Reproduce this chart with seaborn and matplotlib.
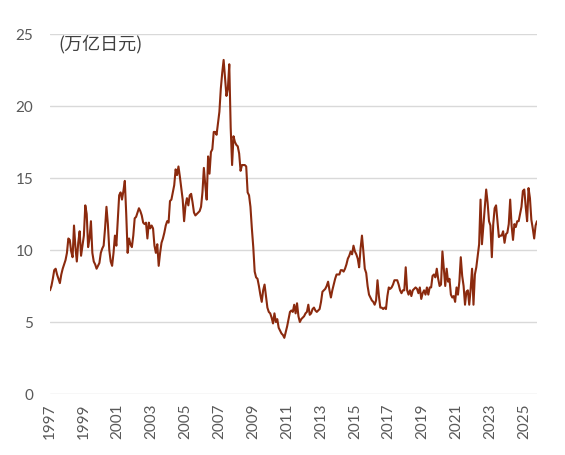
import numpy as np
import pandas as pd
import matplotlib
matplotlib.use("Agg")
import matplotlib.pyplot as plt
import seaborn as sns

# Monthly values (万亿日元), Jan 1997 onward
y1997 = [7.2, 7.5, 8.0, 8.6, 8.7, 8.3, 8.0, 7.7, 8.3, 8.7, 9.0, 9.3]
y1998 = [9.8, 10.8, 10.7, 9.9, 9.5, 11.7, 10.2, 9.2, 10.5, 11.3, 9.6, 10.3]
y1999 = [11.0, 13.1, 12.5, 10.2, 10.8, 12.0, 9.8, 9.2, 9.0, 8.7, 8.9, 9.1]
y2000 = [9.8, 10.1, 10.3, 11.5, 13.0, 11.8, 10.0, 9.2, 8.9, 9.8, 11.0, 10.3]
y2001 = [12.0, 13.8, 14.0, 13.5, 14.1, 14.8, 12.5, 9.8, 10.8, 10.4, 10.2, 11.0]
y2002 = [12.2, 12.3, 12.6, 12.9, 12.7, 12.4, 11.9, 11.8, 11.9, 10.8, 11.9, 11.5]
y2003 = [11.7, 11.5, 10.3, 9.8, 10.4, 8.9, 9.8, 10.5, 10.8, 11.2, 11.7, 12.0]
y2004 = [11.9, 13.4, 13.5, 14.0, 14.5, 15.6, 15.2, 15.8, 15.1, 14.3, 13.5, 12.0]
y2005 = [13.1, 13.6, 13.1, 13.8, 13.9, 13.3, 12.6, 12.4, 12.5, 12.6, 12.7, 13.0]
y2006 = [14.0, 15.7, 14.5, 13.5, 16.5, 15.3, 16.8, 17.0, 18.2, 18.2, 18.0, 18.8]
y2007 = [19.6, 21.2, 22.3, 23.2, 21.9, 20.7, 21.2, 22.9, 18.5, 15.9, 17.9, 17.5]
y2008 = [17.3, 17.2, 16.7, 15.5, 15.9, 15.9, 15.9, 15.8, 14.0, 13.8, 13.0, 11.5]
y2009 = [10.2, 8.5, 8.1, 8.0, 7.5, 6.9, 6.4, 7.2, 7.6, 6.8, 6.0, 5.7]
y2010 = [5.6, 5.3, 4.9, 5.6, 5.0, 5.2, 4.6, 4.4, 4.2, 4.1, 3.9, 4.3]
y2011 = [4.7, 5.2, 5.7, 5.8, 5.7, 6.2, 5.6, 6.3, 5.4, 5.0, 5.2, 5.3]
y2012 = [5.4, 5.6, 5.7, 6.2, 5.5, 5.6, 5.9, 6.0, 5.8, 5.7, 5.8, 5.9]
y2013 = [6.4, 7.1, 7.2, 7.3, 7.5, 7.8, 7.2, 6.7, 7.2, 7.6, 8.0, 8.3]
y2014 = [8.3, 8.3, 8.6, 8.6, 8.5, 8.7, 9.0, 9.4, 9.6, 9.9, 9.7, 10.3]
y2015 = [9.9, 9.7, 9.4, 8.8, 10.1, 11.0, 9.9, 8.7, 8.4, 7.5, 6.9, 6.7]
y2016 = [6.5, 6.4, 6.2, 6.5, 7.9, 6.8, 6.0, 6.0, 5.9, 6.0, 5.9, 6.8]
y2017 = [7.4, 7.3, 7.4, 7.6, 7.9, 7.9, 7.9, 7.6, 7.2, 7.0, 7.2, 7.2]
y2018 = [8.8, 7.2, 6.9, 7.2, 6.8, 7.2, 7.3, 7.4, 7.3, 7.0, 7.4, 6.6]
y2019 = [7.0, 7.2, 6.9, 7.4, 6.9, 7.4, 7.4, 8.2, 8.3, 8.1, 8.7, 8.0]
y2020 = [7.5, 7.6, 9.9, 8.7, 7.5, 8.7, 7.8, 8.0, 6.9, 6.7, 6.8, 6.4]
y2021 = [7.4, 6.9, 7.8, 9.5, 8.2, 7.5, 6.2, 7.1, 7.2, 6.2, 7.3, 8.7]
y2022 = [6.2, 8.3, 8.8, 9.6, 10.4, 13.5, 10.4, 11.7, 13.1, 14.2, 13.3, 12.0]
y2023 = [11.7, 9.5, 11.8, 12.9, 13.1, 12.0, 10.9, 11.0, 11.0, 11.3, 10.5, 11.1]
y2024 = [11.2, 11.8, 13.5, 11.7, 10.7, 11.8, 11.6, 12.0, 12.0, 12.5, 13.0, 14.1]
y2025 = [14.2, 13.0, 12.0, 14.3, 13.6, 12.1, 11.5, 10.8, 11.7, 12.0]

tick_years = ["1997", "1999", "2001", "2003", "2005", "2007", "2009", "2011",
              "2013", "2015", "2017", "2019", "2021", "2023", "2025"]
y_ticks = [0, 5, 10, 15, 20, 25]
unit_label = "(万亿日元)"

values = (y1997 + y1998 + y1999 + y2000 + y2001 + y2002 + y2003 + y2004 + y2005
          + y2006 + y2007 + y2008 + y2009 + y2010 + y2011 + y2012 + y2013 + y2014
          + y2015 + y2016 + y2017 + y2018 + y2019 + y2020 + y2021 + y2022 + y2023
          + y2024 + y2025)
df = pd.DataFrame({"m": np.arange(len(values)), "v": values})

sns.set_theme(style="white")
plt.rcParams["font.family"] = ["Lato", "Noto Sans CJK SC", "DejaVu Sans"]

fig = plt.figure(figsize=(5.65, 4.56), dpi=100)
ax = fig.add_axes([50 / 565, 1 - 395 / 456, 487 / 565, 360 / 456])

sns.lineplot(data=df, x="m", y="v", ax=ax, color="#8B2A0E", linewidth=1.5)

ax.set_xlim(0, len(values) - 1)
ax.set_ylim(0, 25)
ax.set_yticks(y_ticks)
ax.set_yticklabels([str(t) for t in y_ticks])
tick_pos = [(int(t) - 1997) * 12 for t in tick_years]
ax.set_xticks(tick_pos)
ax.set_xticklabels(tick_years, rotation=90)

ax.grid(axis="y", color="#d9d9d9", linewidth=1.0)
ax.grid(axis="x", visible=False)
ax.set_axisbelow(True)
for s in ax.spines.values():
    s.set_visible(False)
ax.tick_params(axis="y", length=0, pad=12, labelsize=11, labelcolor="#595959")
ax.tick_params(axis="x", length=0, pad=6, labelsize=11, labelcolor="#595959")
ax.set_xlabel("")
ax.set_ylabel("")

ax.text(8 / 487, (395 - 44) / 360, unit_label, transform=ax.transAxes,
        ha="left", va="center", fontsize=13, color="#404040",
        family=["Noto Sans CJK SC", "DejaVu Sans"])

fig.savefig("out.png", dpi=100)
